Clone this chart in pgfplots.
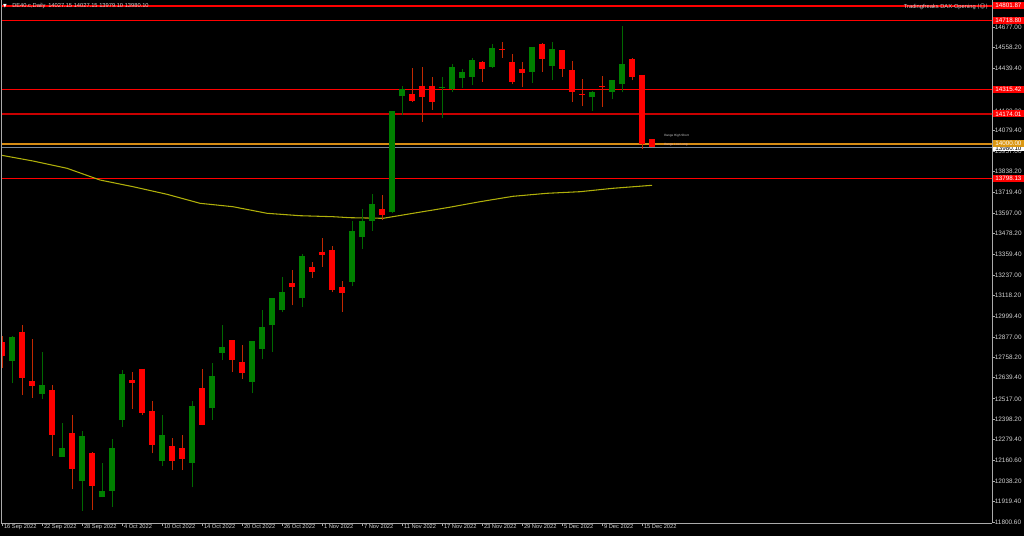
\documentclass[border=0pt]{standalone}
\usepackage{pgfplots}
\pgfplotsset{compat=1.18}
\usepackage{pgfplotstable}
\usepackage{fontspec}
\setmainfont{Liberation Sans}
\newfontfamily\dejavu{DejaVu Sans}
\definecolor{bullbody}{RGB}{0,128,0}
\definecolor{bullwick}{RGB}{0,105,0}
\definecolor{bearbody}{RGB}{255,0,0}
\definecolor{bearwick}{RGB}{195,40,0}
\definecolor{lvlred}{RGB}{255,0,0}
\definecolor{lvldark}{RGB}{200,0,0}
\definecolor{lvlorange}{RGB}{215,140,20}
\definecolor{bidgray}{RGB}{120,136,153}
\definecolor{maline}{RGB}{175,175,10}
\definecolor{txtgray}{RGB}{210,210,210}
\definecolor{framegray}{RGB}{170,170,170}

\pgfplotstableread{
x o h l c
1 12736.8 12882.2 12607.1 12878.1
4 12546.7 12790.9 12514.1 12595.5
6 12178.6 12376.3 12178.6 12230.9
8 12037.3 12329.8 11864.6 12300.7
10 11944.2 12141.9 11944.2 11980.9
11 11982.6 12281.5 11889.6 12230.9
12 12393.7 12684.5 12354.8 12661.2
16 12157.1 12421.1 12128.0 12306.5
19 12145.4 12506.0 12002.4 12475.1
21 12461.8 12725.2 12396.6 12649.6
22 12785.1 12944.4 12742.6 12818.2
25 12616.4 12854.9 12549.0 12854.9
26 12806.6 13033.4 12748.4 12932.8
27 12944.4 13103.2 12789.2 13103.2
28 13031.6 13223.5 13023.5 13138.1
30 13101.4 13359.0 13052.6 13349.1
35 13197.9 13550.9 13172.9 13492.8
36 13456.1 13620.7 13388.1 13550.9
37 13550.9 13707.9 13492.8 13651.5
39 13603.3 14190.6 13595.7 14188.8
40 14276.1 14337.7 14167.3 14318.5
44 14322.6 14390.0 14151.6 14330.1
45 14316.8 14462.1 14301.1 14446.4
46 14384.2 14434.8 14322.6 14415.6
47 14390.0 14497.0 14341.8 14487.1
49 14448.2 14578.4 14442.4 14558.7
53 14419.1 14561.0 14355.1 14561.0
55 14454.0 14593.5 14369.1 14551.1
59 14270.2 14308.6 14192.3 14299.3
61 14301.1 14369.1 14260.3 14369.1
62 14349.3 14684.8 14299.3 14463.9
}\bull

\pgfplotstableread{
x o h l c
0 12845.6 12882.2 12694.4 12767.6
2 12907.2 12946.2 12539.1 12639.7
3 12620.5 12864.7 12523.4 12593.2
5 12566.4 12597.3 12186.1 12306.5
7 12316.4 12421.1 11990.8 12107.1
9 12201.8 12207.7 11870.4 12008.2
13 12626.3 12672.9 12457.7 12607.1
14 12692.0 12692.0 12422.8 12436.2
15 12446.1 12504.2 12200.1 12248.4
17 12242.5 12289.1 12103.0 12157.1
18 12229.2 12306.5 12103.0 12168.7
20 12579.8 12690.3 12361.8 12366.4
23 12858.9 12858.9 12672.9 12740.9
24 12731.0 12828.1 12632.1 12668.8
29 13188.6 13266.0 13060.7 13168.9
31 13283.4 13314.2 13221.2 13256.1
32 13372.4 13450.3 13285.2 13355.0
33 13382.3 13405.5 13138.1 13147.9
34 13165.4 13202.0 13021.8 13130.5
38 13619.0 13700.4 13556.7 13584.1
41 14287.7 14440.6 14244.6 14248.7
42 14337.7 14446.4 14126.6 14273.7
43 14337.7 14388.3 14196.4 14241.2
48 14475.5 14481.3 14360.9 14436.5
50 14551.1 14590.1 14500.5 14547.0
51 14473.8 14520.3 14345.8 14357.5
52 14436.5 14475.5 14328.4 14413.3
54 14578.4 14584.2 14419.1 14491.2
56 14543.5 14543.5 14390.0 14436.5
57 14427.2 14481.3 14244.6 14299.3
58 14289.4 14378.4 14221.4 14285.4
60 14335.9 14394.1 14215.6 14328.4
63 14492.9 14500.5 14369.1 14386.5
64 14399.9 14399.9 13969.6 13996.9
65 14027.15 14027.15 13979.10 13980.10
}\bear

\pgfplotstableread{
x y
-0.2 13934.7
3.1 13899.8
6.5 13857.4
9.8 13789.3
13.1 13750.4
16.5 13706.2
19.8 13653.8
23.1 13634.0
26.5 13595.7
29.8 13581.7
33.1 13575.9
34.8 13570.1
38.1 13566.6
41.1 13595.7
44.5 13628.2
47.8 13663.1
51.1 13694.5
54.5 13712.0
57.8 13721.3
61.1 13741.1
65 13758.5
}\ma

\begin{document}
\begin{tikzpicture}
\useasboundingbox (0,0) rectangle (768pt,402pt);
\fill[black] (0,0) rectangle (768pt,402pt);
\begin{axis}[
  at={(0.75pt,9.75pt)}, anchor=south west,
  scale only axis, width=743.25pt, height=392.25pt,
  xmin=-0.1, xmax=99, ymin=11794.8, ymax=14836.0,
  axis x line*=bottom, axis y line*=right,
  axis line style={-, draw=framegray, line width=0.75pt},
  tick align=outside,
  major tick length=2.25pt,
  tick style={draw=framegray, line width=0.5pt},
  xtick={0,4,...,64},
  xticklabels={16 Sep 2022,22 Sep 2022,28 Sep 2022,4 Oct 2022,10 Oct 2022,14 Oct 2022,20 Oct 2022,26 Oct 2022,1 Nov 2022,7 Nov 2022,11 Nov 2022,17 Nov 2022,23 Nov 2022,29 Nov 2022,5 Dec 2022,9 Dec 2022,15 Dec 2022},
  x tick label style={font=\fontsize{4.3}{5}\selectfont, text=txtgray, anchor=north west, inner sep=0pt, xshift=1.3pt, yshift=1.2pt},
  ytick={11800.6,11919.4,12038.2,12160.6,12279.4,12398.2,12517,12639.4,12758.2,12877,12999.4,13118.2,13237,13359.4,13478.2,13597,13719.4,13838.2,13957,14079.4,14188.2,14439.4,14558.2,14677},
  yticklabels={11800.60,11919.40,12038.20,12160.60,12279.40,12398.20,12517.00,12639.40,12758.20,12877.00,12999.40,13118.20,13237.00,13359.40,13478.20,13597.00,13719.40,13838.20,13957.00,14079.40,14188.20,14439.40,14558.20,14677.00},
  y tick label style={font=\fontsize{4.8}{5}\selectfont, text=txtgray, anchor=west, inner sep=0pt, xshift=-0.3pt},
]
% level lines
\addplot[lvlred, line width=1.1pt] coordinates {(-1,14801.87) (100,14801.87)};
\addplot[lvlred, line width=0.8pt] coordinates {(-1,14718.80) (100,14718.80)};
\addplot[lvlred, line width=0.9pt] coordinates {(-1,14315.42) (100,14315.42)};
\addplot[lvldark, line width=1.2pt] coordinates {(-1,14174.01) (100,14174.01)};
\addplot[lvlred, line width=0.8pt] coordinates {(-1,13798.13) (100,13798.13)};
\addplot[lvlorange, line width=1.3pt] coordinates {(-1,14000.00) (100,14000.00)};
\addplot[bidgray, line width=0.75pt] coordinates {(-1,13980.10) (100,13980.10)};
% moving average
\addplot[maline, line width=0.8pt] table[x=x,y=y]{\ma};
% wicks
\addplot[draw=bullwick, line width=0.75pt, quiver={u=0, v=\thisrow{h}-\thisrow{l}}] table[x=x,y=l]{\bull};
\addplot[draw=bearwick, line width=0.75pt, quiver={u=0, v=\thisrow{h}-\thisrow{l}}] table[x=x,y=l]{\bear};
% bodies
\addplot[draw=bullbody, line width=4.9pt, quiver={u=0, v=\thisrow{c}-\thisrow{o}}] table[x=x,y=o]{\bull};
\addplot[draw=bearbody, line width=4.9pt, quiver={u=0, v=\thisrow{c}-\thisrow{o}}] table[x=x,y=o]{\bear};
\coordinate (L1) at (axis cs:99,14801.87);
\coordinate (L2) at (axis cs:99,14718.80);
\coordinate (L3) at (axis cs:99,14315.42);
\coordinate (L4) at (axis cs:99,14174.01);
\coordinate (L5) at (axis cs:99,13798.13);
\coordinate (L6) at (axis cs:99,14000.00);
\coordinate (L7) at (axis cs:99,13980.10);
\coordinate (T1) at (axis cs:66.2,14044);
\coordinate (T2) at (axis cs:66.2,13992);
\end{axis}
% price label boxes on the right scale
\tikzset{lvl/.style={anchor=west, inner xsep=0pt, inner ysep=0pt, minimum width=23pt, minimum height=5.4pt, font=\fontsize{4.7}{5}\selectfont, xshift=0.6pt}}
\node[lvl, fill=lvlred, text=white, yshift=0.5pt] at (L1) {14801.87};
\node[lvl, fill=lvlred, text=white] at (L2) {14718.80};
\node[lvl, fill=lvlred, text=white] at (L3) {14315.42};
\node[lvl, fill=lvlred, text=white] at (L4) {14174.01};
\node[lvl, fill=lvlred, text=white] at (L5) {13798.13};
\node[lvl, fill=white, text=black, minimum height=4.2pt, yshift=-0.9pt] at (L7) {13980.10};
\node[lvl, fill=lvlorange!90!yellow, text=white] at (L6) {14000.00};
% tiny object texts
\node[anchor=west, inner sep=0pt, font=\fontsize{2.3}{3}\selectfont, text=txtgray] at (T1) {Range High Short};
\node[anchor=west, inner sep=0pt, font=\fontsize{2.3}{3}\selectfont, text=pink!70!gray] at (T2) {Range Low Long};
% header texts
\node[anchor=west, inner sep=0pt, font=\dejavu\fontsize{3.6}{4}\selectfont, text=white] at (2.2pt,397.6pt) {▼};
\node[anchor=west, inner sep=0pt, font=\fontsize{4.3}{5}\selectfont, text=txtgray] at (9pt,397.6pt) {DE40.c,Daily\enspace 14027.15 14027.15 13979.10 13980.10};
\node[anchor=east, inner sep=0pt, font=\fontsize{4.3}{5}\selectfont, text=txtgray] at (741pt,396.8pt) {Tradingfreaks DAX-Opening {\dejavu(☺)}};
% left frame line
\draw[framegray, line width=0.9pt] (1.1pt,9.75pt) -- (1.1pt,402pt);
\end{tikzpicture}
\end{document}
